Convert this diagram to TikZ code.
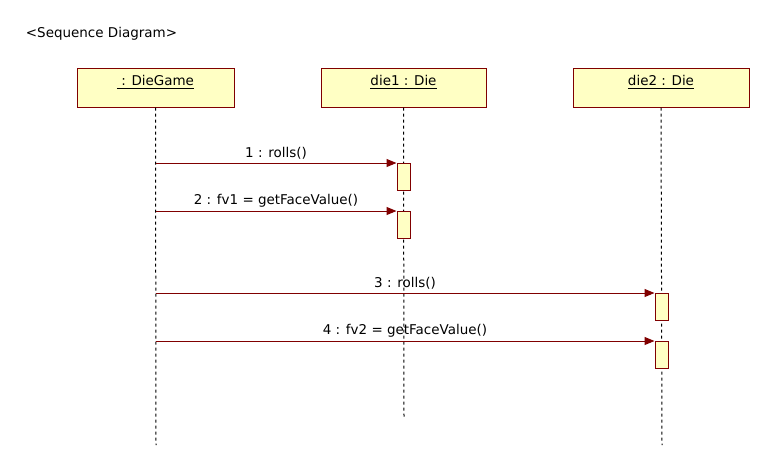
\documentclass[tikz,border=0pt]{standalone}
\usepackage{fontspec}
\setmainfont{DejaVu Sans}
\usetikzlibrary{arrows.meta}
\definecolor{boxfill}{HTML}{FFFFC4}
\definecolor{boxline}{HTML}{800000}
\begin{document}
\begin{tikzpicture}[x=0.75pt,y=-0.75pt, line width=0.75pt,
    font=\fontsize{10.1}{12}\selectfont,
    obj/.style={draw=boxline, fill=boxfill, minimum height=29.25pt, inner sep=0pt,
      text height=6.5pt, text depth=9pt},
    act/.style={draw=boxline, fill=boxfill, minimum width=9.75pt, minimum height=20.25pt,
      inner sep=0pt, anchor=north},
    lifeline/.style={dash pattern=on 2.25pt off 2.25pt},
    msg/.style={draw=boxline, -{Triangle[length=7.5pt,width=6pt]}}]
  \useasboundingbox (0,0) rectangle (771,465);
  \node[anchor=west] (title) at (21,34) {<Sequence Diagram>};
  % objects
  \node[obj, minimum width=117.75pt] (game) at (155.5,87.5) {\underline{\ : DieGame}};
  \node[obj, minimum width=123.75pt] (die1) at (403.5,87.5) {\underline{die1 : Die}};
  \node[obj, minimum width=132pt] (die2) at (661,87.5) {\underline{die2 : Die}};
  % lifelines
  \coordinate (game end) at (156,445);
  \coordinate (die1 end) at (404,418);
  \coordinate (die2 end) at (662,445);
  \draw[lifeline] (game.south) -- (game end);
  \draw[lifeline] (die1.south) -- (die1 end);
  \draw[lifeline] (die2.south) -- (die2 end);
  % activations
  \node[act] (act1) at (403.5,163) {};
  \node[act] (act2) at (403.5,211) {};
  \node[act] (act3) at (661.5,293) {};
  \node[act] (act4) at (661.5,341) {};
  % messages
  \draw[msg] (game.south |- act1.north west) -- (act1.north west)
    node[midway, above, inner sep=2.5pt] {1 : rolls()};
  \draw[msg] (game.south |- act2.north west) -- (act2.north west)
    node[midway, above, inner sep=2.5pt] {2 : fv1 = getFaceValue()};
  \draw[msg] (game.south |- act3.north west) -- (act3.north west)
    node[midway, above, inner sep=2.5pt] {3 : rolls()};
  \draw[msg] (game.south |- act4.north west) -- (act4.north west)
    node[midway, above, inner sep=2.5pt] {4 : fv2 = getFaceValue()};
\end{tikzpicture}
\end{document}
